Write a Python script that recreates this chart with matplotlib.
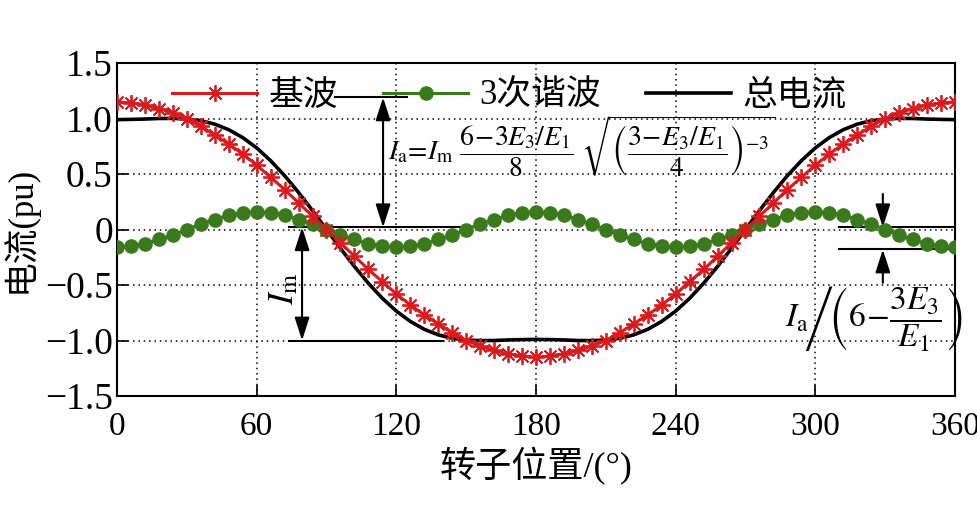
import matplotlib
matplotlib.use('Agg')
import matplotlib.pyplot as plt

# ---------------- data ----------------
theta = list(range(0, 361, 6))

fundamental = [1.15, 1.14, 1.12, 1.09, 1.05, 1.00, 0.93, 0.85, 0.77, 0.68, 0.58, 0.47, 0.36, 0.24, 0.12, 0.00,
               -0.12, -0.24, -0.36, -0.47, -0.58, -0.68, -0.77, -0.85, -0.93, -1.00, -1.05, -1.09, -1.12, -1.14, -1.15,
               -1.14, -1.12, -1.09, -1.05, -1.00, -0.93, -0.85, -0.77, -0.68, -0.58, -0.47, -0.36, -0.24, -0.12, 0.00,
               0.12, 0.24, 0.36, 0.47, 0.58, 0.68, 0.77, 0.85, 0.93, 1.00, 1.05, 1.09, 1.12, 1.14, 1.15]

third = [-0.16, -0.15, -0.13, -0.09, -0.05, 0.00, 0.05, 0.09, 0.13, 0.15, 0.16,
         0.15, 0.13, 0.09, 0.05, 0.00, -0.05, -0.09, -0.13, -0.15, -0.16,
         -0.15, -0.13, -0.09, -0.05, 0.00, 0.05, 0.09, 0.13, 0.15, 0.16,
         0.15, 0.13, 0.09, 0.05, 0.00, -0.05, -0.09, -0.13, -0.15, -0.16,
         -0.15, -0.13, -0.09, -0.05, 0.00, 0.05, 0.09, 0.13, 0.15, 0.16,
         0.15, 0.13, 0.09, 0.05, 0.00, -0.05, -0.09, -0.13, -0.15, -0.16]

total = [0.990, 0.992, 0.995, 1.000, 1.001, 0.996, 0.980, 0.949, 0.899, 0.828, 0.735, 0.620, 0.485, 0.333, 0.170, 0.000,
         -0.170, -0.333, -0.485, -0.620, -0.735, -0.828, -0.899, -0.949, -0.980, -0.996, -1.001, -1.000, -0.995, -0.992, -0.990,
         -0.992, -0.995, -1.000, -1.001, -0.996, -0.980, -0.949, -0.899, -0.828, -0.735, -0.620, -0.485, -0.333, -0.170, 0.000,
         0.170, 0.333, 0.485, 0.620, 0.735, 0.828, 0.899, 0.949, 0.980, 0.996, 1.001, 1.000, 0.995, 0.992, 0.990]

series_labels = ['基波', '3次谐波', '总电流']
x_ticks = [0, 60, 120, 180, 240, 300, 360]
x_tick_labels = ['0', '60', '120', '180', '240', '300', '360']
y_ticks = [-1.5, -1.0, -0.5, 0, 0.5, 1.0, 1.5]
y_tick_labels = ['\u22121.5', '\u22121.0', '\u22120.5', '0', '0.5', '1.0', '1.5']

# ---------------- style ----------------
plt.rcParams['font.family'] = ['Liberation Serif', 'Noto Sans CJK SC']
plt.rcParams['mathtext.fontset'] = 'stix'

RED = '#dc1a1e'
GREEN = '#3b7a1c'

fig = plt.figure(figsize=(9.78, 5.08), dpi=100)
ax = fig.add_axes([117 / 978, 1 - 396 / 508, 838 / 978, 333 / 508])

l_tot, = ax.plot(theta, total, color='black', lw=2.6, zorder=3)
l_3, = ax.plot(theta, third, color=GREEN, lw=2.2, marker='o', ms=9.5, zorder=4)
l_f, = ax.plot(theta, fundamental, color=RED, lw=2.2, marker=(8, 2, 0), ms=12, mew=1.3, zorder=5)

ax.set_xlim(0, 360)
ax.set_ylim(-1.5, 1.5)
ax.set_xticks(x_ticks)
ax.set_xticklabels(x_tick_labels)
ax.set_yticks(y_ticks)
ax.set_yticklabels(y_tick_labels)
ax.tick_params(direction='in', length=8, width=1.2, pad=3)
ax.tick_params(axis='y', labelsize=27)
ax.tick_params(axis='x', labelsize=24, pad=11)
ax.grid(True, color='black', linestyle=(0, (1, 2.5)), lw=1.1)
for s in ax.spines.values():
    s.set_linewidth(1.5)

ax.set_xlabel('转子位置/(°)', fontsize=26, labelpad=4)
ax.set_ylabel('电流(pu)', fontsize=25, labelpad=5)

leg = ax.legend([l_f, l_3, l_tot], series_labels, loc='center left', bbox_to_anchor=(0.066, 0.90),
                ncol=3, frameon=False, fontsize=25, handlelength=2.45, handletextpad=0.32,
                columnspacing=1.3, numpoints=1, borderpad=0, borderaxespad=0)

# ---------------- annotations ----------------
ann = dict(color='black', lw=1.5)
ax.plot([93.6, 124.5], [1.19, 1.19], **ann)
ax.plot([74, 150], [0.02, 0.02], **ann)
ax.plot([74, 140], [-1.0, -1.0], **ann)
arrow2 = dict(arrowstyle='<|-|>,head_length=1.4,head_width=0.45', color='black', lw=1.5,
              shrinkA=0, shrinkB=0)
ax.annotate('', xy=(114.3, 0.02), xytext=(114.3, 1.19), arrowprops=arrow2)
ax.annotate('', xy=(79.5, -1.0), xytext=(79.5, 0.02), arrowprops=arrow2)
ax.text(72, -0.53, r'$I_{\mathrm{m}}$', rotation=90, fontsize=25, ha='center', va='center')

ax.text(116.5, 0.75,
        r'$I_{\mathrm{a}}\!=\!I_{\mathrm{m}}\ \dfrac{6\!-\!3E_3/E_1}{8}\ \sqrt{\left(\dfrac{3\!-\!E_3/E_1}{4}\right)^{-3}}$',
        fontsize=20, ha='left', va='center')

# right-hand annotation
ax.plot([310, 360], [0.02, 0.02], **ann)
ax.plot([310, 360], [-0.18, -0.18], **ann)
arrow1 = dict(arrowstyle='-|>,head_length=1.4,head_width=0.45', color='black', lw=1.5,
              shrinkA=0, shrinkB=0)
ax.annotate('', xy=(329, 0.02), xytext=(329, 0.32), arrowprops=arrow1)
ax.annotate('', xy=(329, -0.18), xytext=(329, -0.48), arrowprops=arrow1)
ax.text(287, -0.80, r'$I_{\mathrm{a}}\!\left/\!\left(6\!-\!\dfrac{3E_3}{E_1}\right)\right.$',
        fontsize=24, ha='left', va='center')

fig.savefig('out.png', dpi=100)
